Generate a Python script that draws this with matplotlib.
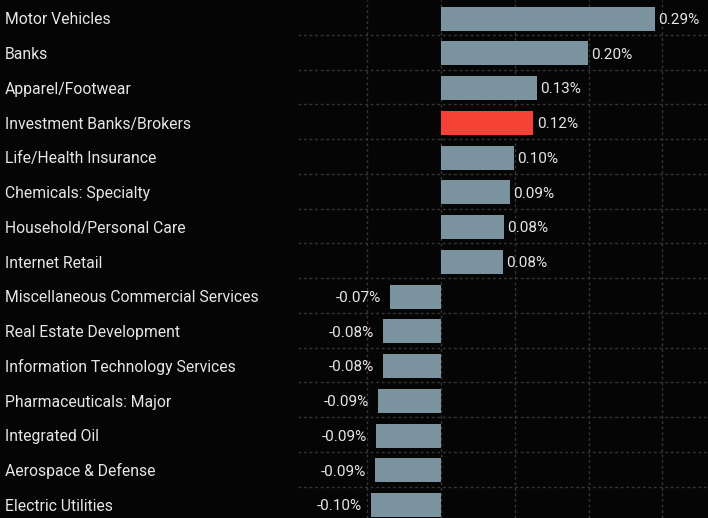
import matplotlib.pyplot as plt
import numpy as np

# sector contributions (%)
sectors = ['Motor Vehicles', 'Banks', 'Apparel/Footwear', 'Investment Banks/Brokers',
           'Life/Health Insurance', 'Chemicals: Specialty', 'Household/Personal Care',
           'Internet Retail', 'Miscellaneous Commercial Services', 'Real Estate Development',
           'Information Technology Services', 'Pharmaceuticals: Major', 'Integrated Oil',
           'Aerospace & Defense', 'Electric Utilities']
values = [0.290, 0.199, 0.130, 0.125, 0.099, 0.093, 0.085, 0.084,
          -0.069, -0.079, -0.079, -0.085, -0.088, -0.089, -0.095]
labels = ['0.29%', '0.20%', '0.13%', '0.12%', '0.10%', '0.09%', '0.08%', '0.08%',
          '-0.07%', '-0.08%', '-0.08%', '-0.09%', '-0.09%', '-0.09%', '-0.10%']
highlight = 'Investment Banks/Brokers'

bg = '#050505'
bar_col = '#7b939e'
red_col = '#f44336'
txt_col = '#e6e6e6'

plt.rcParams['font.family'] = ['Roboto', 'DejaVu Sans']

fig = plt.figure(figsize=(7.08, 5.18), dpi=100, facecolor=bg)
ax = fig.add_axes([298 / 708, 0, 410 / 708, 1])
ax.set_facecolor(bg)

y = np.arange(len(sectors))
colors = [red_col if s == highlight else bar_col for s in sectors]
ax.barh(y + 0.03, values, height=0.69, color=colors, zorder=3)

ax.set_xlim(-0.194, 0.362)
ax.set_ylim(14.40, -0.507)

# dashed grid, horizontal lines sit between the rows
ax.set_xticks([-0.1, 0, 0.1, 0.2, 0.3])
ax.set_yticks(np.arange(0.5, len(sectors) - 0.5, 1))
ax.grid(True, color='#363636', linestyle=(0, (2, 2)), linewidth=1, zorder=0)
ax.tick_params(left=False, bottom=False, labelleft=False, labelbottom=False)
for sp in ax.spines.values():
    sp.set_visible(False)

# category names on the left (baseline placed per row)
for i, s in enumerate(sectors):
    fig.text(5 / 708, 1 - (24.5 + i * 34.75) / 518, s, color=txt_col, fontsize=11.3,
             ha='left', va='baseline')

# value labels
for i, (v, lab) in enumerate(zip(values, labels)):
    if v >= 0:
        ax.annotate(lab, (v, i), xytext=(2.5, -1.7), textcoords='offset points',
                    ha='left', va='center', color=txt_col, fontsize=11)
    else:
        ax.annotate(lab, (v, i), xytext=(-6.5, -1.7), textcoords='offset points',
                    ha='right', va='center', color=txt_col, fontsize=11)

fig.savefig('out.png', dpi=100, facecolor=bg)
